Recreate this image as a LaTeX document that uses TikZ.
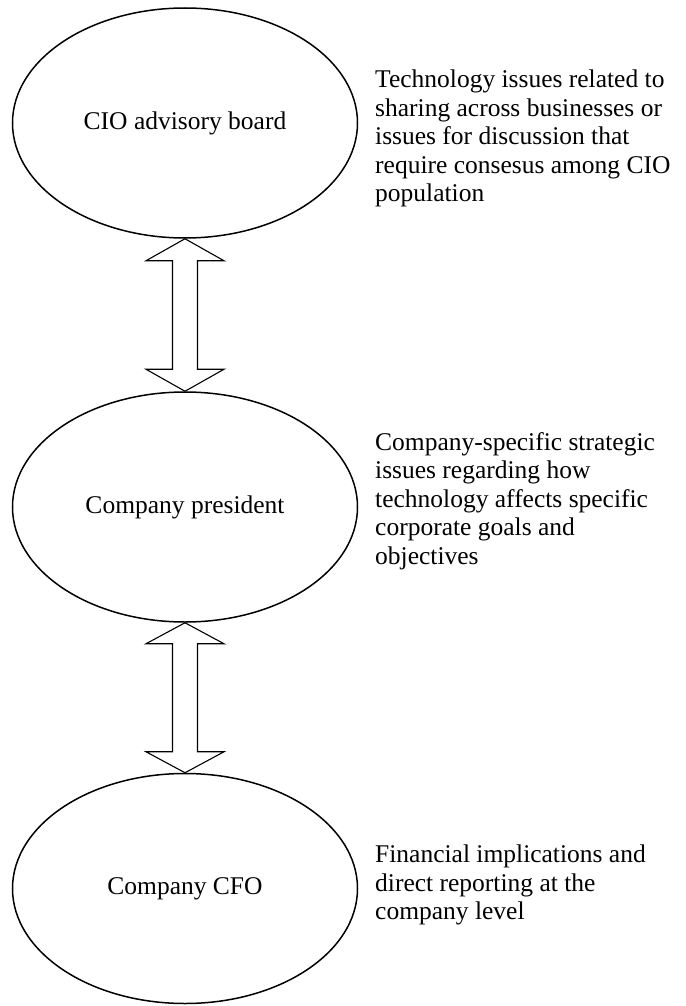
\documentclass[tikz,border=0pt]{standalone}
\usepackage{fontspec}
\setmainfont{Liberation Serif}
\usepackage{tikz}
\usetikzlibrary{shapes.geometric,calc}

\tikzset{
  role/.style={ellipse, draw, line width=1.5pt, inner sep=0pt, minimum width=345pt, minimum height=230pt},
  note/.style={anchor=west, inner sep=0pt, align=left},
  fatarrow/.style={draw, line width=1.1pt, line join=miter, fill=white}
}

\begin{document}
\begin{tikzpicture}[x=1pt, y=-1pt, font=\fontsize{25.5}{28.5}\selectfont]
\useasboundingbox (0,0) rectangle (685,1006);

% nodes %
\node[role] (cio) at (185,123) {CIO advisory board};
\node[role] (pres) at (185,507) {Company president};
\node[role] (cfo) at (185,888.5) {Company CFO};

\node[note] (cionote) at (375,138.5) {Technology issues related to\\sharing across businesses or\\issues for discussion that\\require consesus among CIO\\population};
\node[note] (presnote) at (375,501) {Company-specific strategic\\issues regarding how\\technology affects specific\\corporate goals and\\objectives};
\node[note] (cfonote) at (375,885) {Financial implications and\\direct reporting at the\\company level};

% edges %
\draw[fatarrow] (cio.south) -- ++(39,22) -- ++(-26.5,0) -- ($(pres.north)+(12.5,-22)$) -- ++(26.5,0) -- (pres.north)
  -- ++(-39,-22) -- ++(26.5,0) -- ($(cio.south)+(-12.5,22)$) -- ++(-26.5,0) -- cycle;
\draw[fatarrow] (pres.south) -- ++(39,21) -- ++(-26.5,0) -- ($(cfo.north)+(12.5,-21)$) -- ++(26.5,0) -- (cfo.north)
  -- ++(-39,-21) -- ++(26.5,0) -- ($(pres.south)+(-12.5,21)$) -- ++(-26.5,0) -- cycle;
\end{tikzpicture}
\end{document}
